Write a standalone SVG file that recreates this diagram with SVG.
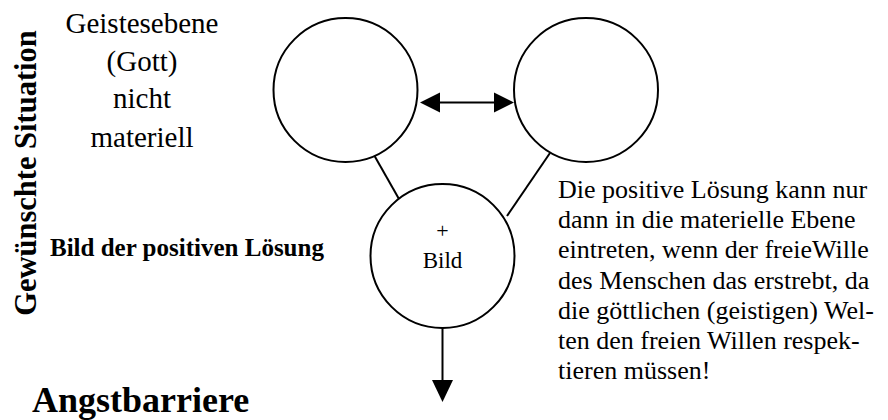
<svg xmlns="http://www.w3.org/2000/svg" width="888" height="420" viewBox="0 0 888 420">
<style>
.c{fill:#fff;stroke:#000;stroke-width:2}
.l{stroke:#000;stroke-width:2;fill:none}
.t{font-family:"Liberation Serif","Times New Roman",serif;fill:#000}
.b{font-weight:bold}
</style>
<defs>
<marker id="ah" viewBox="0 0 10 10" refX="10" refY="5" markerWidth="10" markerHeight="10" markerUnits="userSpaceOnUse" orient="auto-start-reverse">
<path d="M0,0 L10,5 L0,10 Z" fill="#000"/>
</marker>
<marker id="ah2" viewBox="0 0 10 10" refX="10" refY="5" markerWidth="11" markerHeight="11" markerUnits="userSpaceOnUse" orient="auto">
<path d="M0,0 L10,5 L0,10 Z" fill="#000"/>
</marker>
</defs>
<rect width="888" height="420" fill="#fff"/>
<g id="connectors">
<line class="l" x1="440" y1="102.5" x2="494" y2="102.5"/>
<path d="M420,102.5 L440,92.5 L440,112.5 Z" fill="#000"/>
<path d="M514,102.5 L494,92.5 L494,112.5 Z" fill="#000"/>
<line class="l" x1="374" y1="155" x2="399" y2="199"/>
<line class="l" x1="550" y1="153" x2="507" y2="216"/>
<line class="l" x1="442.5" y1="328" x2="442.5" y2="382"/>
<path d="M432,380 L453,380 L442.5,402 Z" fill="#000"/>
</g>
<g id="node-left">
<circle class="c" cx="345.5" cy="90" r="72"/>
</g>
<g id="node-right">
<circle class="c" cx="586" cy="90" r="72"/>
</g>
<g id="node-bild">
<circle class="c" cx="442.5" cy="256" r="72"/>
<text class="t" x="442.5" y="238" font-size="22" text-anchor="middle">+</text>
<text class="t" x="442.5" y="268" font-size="23" text-anchor="middle">Bild</text>
</g>
<g id="label-geist" class="t" font-size="29" text-anchor="middle">
<text x="142" y="33">Geistesebene</text>
<text x="142" y="71">(Gott)</text>
<text x="142" y="108">nicht</text>
<text x="142" y="147">materiell</text>
</g>
<text id="label-situation" class="t b" font-size="30.5" text-anchor="middle" transform="translate(36,173) rotate(-90)">Gewünschte Situation</text>
<text id="label-bild" class="t b" x="50" y="256" font-size="25">Bild der positiven Lösung</text>
<text id="label-angst" class="t b" x="32" y="412" font-size="36">Angstbarriere</text>
<g id="label-text" class="t" font-size="26">
<text x="558" y="198">Die positive Lösung kann nur</text>
<text x="558" y="228">dann in die materielle Ebene</text>
<text x="558" y="258">eintreten, wenn der freieWille</text>
<text x="558" y="289">des Menschen das erstrebt, da</text>
<text x="558" y="319">die göttlichen (geistigen) Wel-</text>
<text x="558" y="349">ten den freien Willen respek-</text>
<text x="558" y="379">tieren müssen!</text>
</g>
</svg>
